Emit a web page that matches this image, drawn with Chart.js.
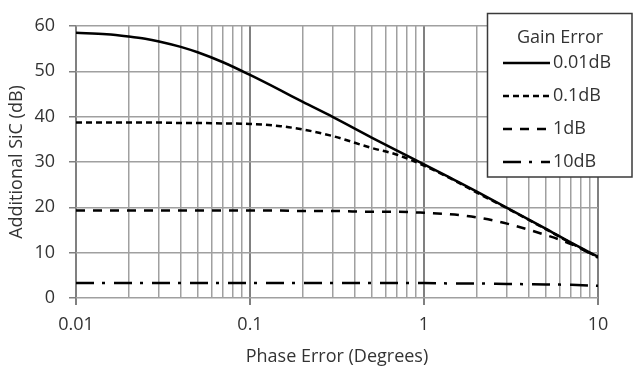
<!DOCTYPE html>
<html>
<head>
<meta charset="utf-8">
<script src="https://cdn.jsdelivr.net/npm/chart.js@4/dist/chart.umd.min.js"></script>
<style>
  html, body { margin: 0; padding: 0; background: #fff; }
  canvas { display: block; }
</style>
</head>
<body>
<canvas id="sicChart" width="633" height="368"></canvas>
<script>
// phase error in degrees, one row per sample
const phaseError = [0.01, 0.015, 0.02, 0.025, 0.03, 0.04, 0.05, 0.07, 0.1, 0.15, 0.2, 0.3, 0.5, 0.7, 1, 1.5, 2, 3, 5, 7, 10];

// additional SiC (dB) for each gain error
const sic001dB = [58.5, 58.2, 57.7, 57.2, 56.6, 55.4, 54.2, 52.0, 49.2, 45.8, 43.3, 39.9, 35.4, 32.5, 29.5, 26.0, 23.5, 19.9, 15.3, 12.2, 9.1];
const sic01dB  = [38.7, 38.7, 38.7, 38.7, 38.7, 38.6, 38.6, 38.5, 38.4, 37.9, 37.2, 35.7, 33.1, 31.6, 29.2, 25.9, 23.3, 19.8, 15.2, 12.1, 9.0];
const sic1dB   = [19.3, 19.3, 19.3, 19.3, 19.3, 19.3, 19.3, 19.3, 19.3, 19.3, 19.2, 19.2, 19.0, 19.0, 18.8, 18.4, 17.8, 16.4, 13.9, 11.9, 8.9];
const sic10dB  = [3.3, 3.3, 3.3, 3.3, 3.3, 3.3, 3.3, 3.3, 3.3, 3.3, 3.3, 3.3, 3.3, 3.3, 3.3, 3.2, 3.2, 3.1, 3.0, 2.9, 2.7];

const seriesLabels = ['0.01dB', '0.1dB', '1dB', '10dB'];
const legendTitle = 'Gain Error';

const xTickLabels = [0.01, 0.1, 1, 10];
const yTickLabels = [0, 10, 20, 30, 40, 50, 60];

const textColor = '#333';
const fontFamily = '"Open Sans", Lato, sans-serif';
Chart.defaults.font.family = fontFamily;
Chart.defaults.font.size = 18;
Chart.defaults.color = textColor;

const toPoints = ys => phaseError.map((x, i) => ({ x: x, y: ys[i] }));

const lineStyle = {
  borderColor: '#000',
  borderWidth: 2.5,
  pointRadius: 0,
  cubicInterpolationMode: 'monotone',
  fill: false
};

const isDecade = v => Math.abs(Math.log10(v) - Math.round(Math.log10(v))) < 1e-6;

// box legend drawn on top of the plot
const gainLegend = {
  id: 'gainLegend',
  afterDraw(chart) {
    const ctx = chart.ctx;
    const box = { left: 487.5, top: 13.5, right: 632, bottom: 177 };
    ctx.save();
    ctx.fillStyle = '#fff';
    ctx.fillRect(box.left, box.top, box.right - box.left, box.bottom - box.top);
    ctx.strokeStyle = '#3a3a3a';
    ctx.lineWidth = 1.5;
    ctx.strokeRect(box.left, box.top, box.right - box.left, box.bottom - box.top);

    ctx.fillStyle = textColor;
    ctx.font = '18px ' + fontFamily;
    ctx.textBaseline = 'middle';
    ctx.textAlign = 'center';
    ctx.fillText(legendTitle, 560, 38);

    const rows = [63, 96, 129, 162];
    ctx.textAlign = 'left';
    chart.data.datasets.forEach((ds, i) => {
      const y = rows[i];
      ctx.beginPath();
      ctx.setLineDash(ds.borderDash || []);
      ctx.strokeStyle = ds.borderColor;
      ctx.lineWidth = ds.borderWidth;
      ctx.moveTo(503, y);
      ctx.lineTo(550, y);
      ctx.stroke();
      ctx.setLineDash([]);
      ctx.fillText(ds.label, 553, y);
    });
    ctx.restore();
  }
};

new Chart(document.getElementById('sicChart'), {
  type: 'line',
  data: {
    datasets: [
      Object.assign({ label: seriesLabels[0], data: toPoints(sic001dB) }, lineStyle),
      Object.assign({ label: seriesLabels[1], data: toPoints(sic01dB), borderDash: [6, 4] }, lineStyle),
      Object.assign({ label: seriesLabels[2], data: toPoints(sic1dB), borderDash: [9, 8] }, lineStyle),
      Object.assign({ label: seriesLabels[3], data: toPoints(sic10dB), borderDash: [18, 8, 3, 9] }, lineStyle)
    ]
  },
  options: {
    responsive: false,
    animation: false,
    layout: { padding: { top: 26, right: 35, left: 0, bottom: 0 } },
    plugins: {
      legend: { display: false },
      tooltip: { enabled: false }
    },
    scales: {
      x: {
        type: 'logarithmic',
        min: 0.01,
        max: 10,
        afterBuildTicks(scale) {
          const ticks = [];
          for (let e = -2; e <= 0; e++) {
            for (let m = 1; m <= 9; m++) ticks.push({ value: +(m * Math.pow(10, e)).toPrecision(3) });
          }
          ticks.push({ value: 10 });
          scale.ticks = ticks;
        },
        afterFit(scale) { scale.height = 70; },
        ticks: {
          autoSkip: false,
          maxRotation: 0,
          padding: 9,
          callback(value) {
            return xTickLabels.some(t => Math.abs(t - value) < 1e-9) ? String(value) : '';
          }
        },
        grid: {
          color: ctx => isDecade(ctx.tick.value) ? '#808080' : '#a0a0a0',
          lineWidth: ctx => isDecade(ctx.tick.value) ? 2 : 1.5,
          tickLength: 7,
          tickColor: ctx => isDecade(ctx.tick.value) ? '#808080' : 'rgba(0,0,0,0)'
        },
        border: { display: false },
        title: {
          display: true,
          text: 'Phase Error (Degrees)',
          padding: { top: 0, bottom: 0 }
        }
      },
      y: {
        min: 0,
        max: 60,
        afterFit(scale) { scale.width = 76; },
        ticks: {
          stepSize: 5,
          padding: 14,
          callback(value) {
            return yTickLabels.includes(value) ? String(value) : '';
          }
        },
        grid: {
          color: '#a0a0a0',
          lineWidth: 1.5,
          tickLength: 7,
          tickColor: ctx => yTickLabels.includes(ctx.tick.value) ? '#808080' : 'rgba(0,0,0,0)'
        },
        border: { display: false },
        title: {
          display: true,
          text: 'Additional SiC (dB)',
          padding: { top: 6, bottom: 0 }
        }
      }
    }
  },
  plugins: [gainLegend]
});
</script>
</body>
</html>
